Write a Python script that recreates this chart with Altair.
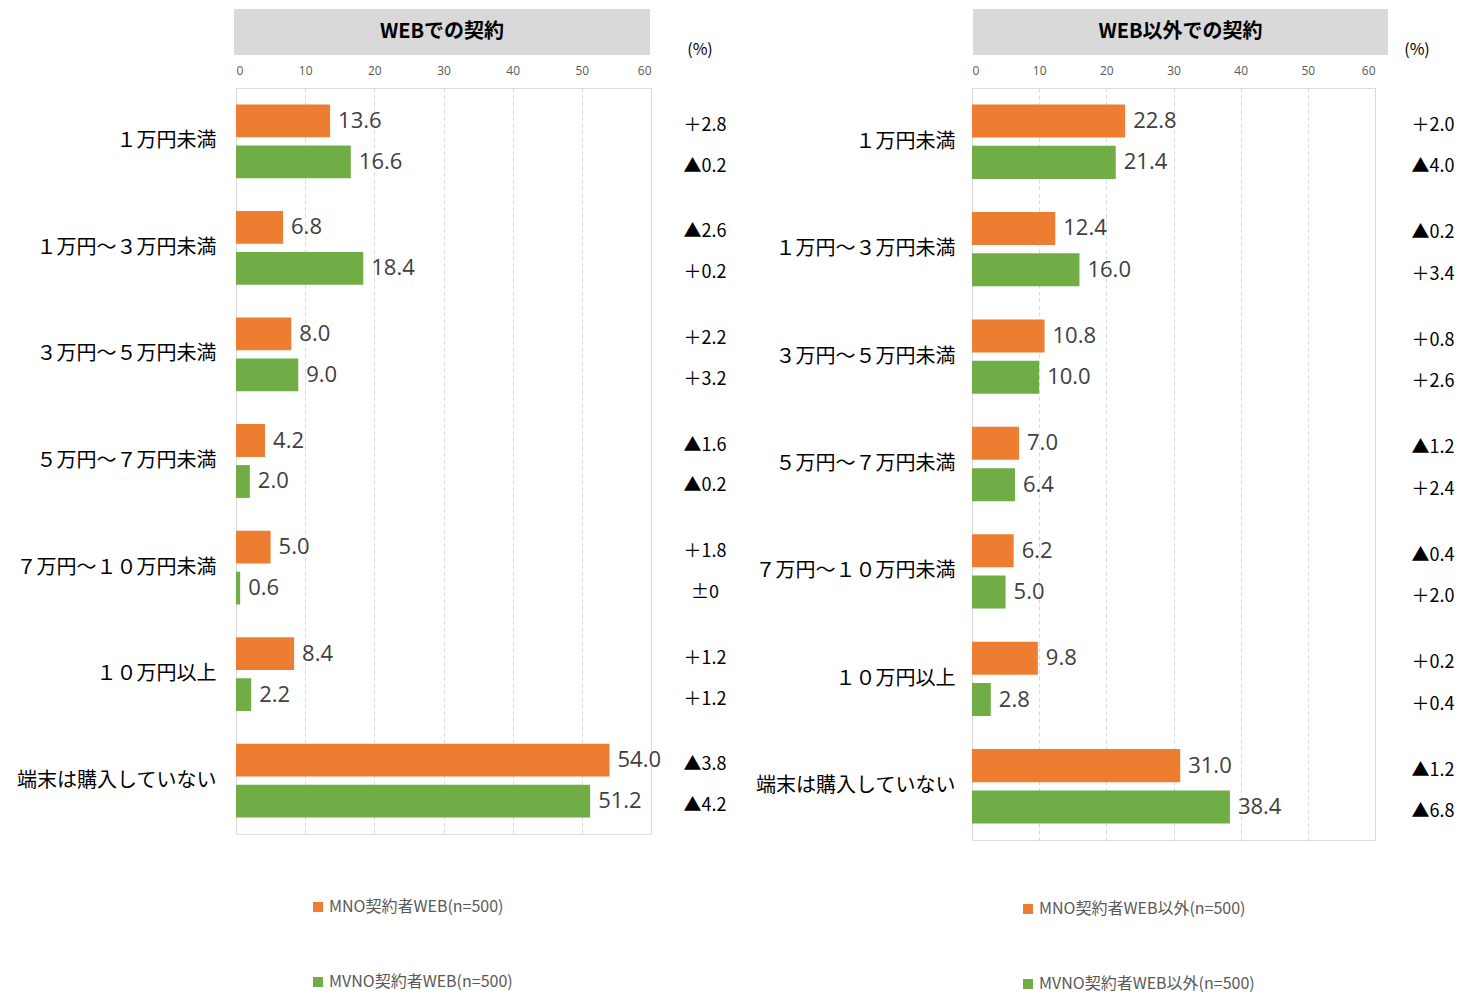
import altair as alt
import pandas as pd

categories = ["１万円未満", "１万円～３万円未満", "３万円～５万円未満", "５万円～７万円未満",
              "７万円～１０万円未満", "１０万円以上", "端末は購入していない"]

web_mno = [13.6, 6.8, 8.0, 4.2, 5.0, 8.4, 54.0]
web_mvno = [16.6, 18.4, 9.0, 2.0, 0.6, 2.2, 51.2]
web_mno_diff = ["＋2.8", "▲2.6", "＋2.2", "▲1.6", "＋1.8", "＋1.2", "▲3.8"]
web_mvno_diff = ["▲0.2", "＋0.2", "＋3.2", "▲0.2", "±0", "＋1.2", "▲4.2"]

other_mno = [22.8, 12.4, 10.8, 7.0, 6.2, 9.8, 31.0]
other_mvno = [21.4, 16.0, 10.0, 6.4, 5.0, 2.8, 38.4]
other_mno_diff = ["＋2.0", "▲0.2", "＋0.8", "▲1.2", "▲0.4", "＋0.2", "▲1.2"]
other_mvno_diff = ["▲4.0", "＋3.4", "＋2.6", "＋2.4", "＋2.0", "＋0.4", "▲6.8"]

series_web = ["MNO契約者WEB(n=500)", "MVNO契約者WEB(n=500)"]
series_other = ["MNO契約者WEB以外(n=500)", "MVNO契約者WEB以外(n=500)"]
titles = ["WEBでの契約", "WEB以外での契約"]
colors = ["#ED7D31", "#70AD47"]
x_ticks = [0, 10, 20, 30, 40, 50, 60]
unit_label = "(%)"

CJK = "Noto Sans CJK JP"
NUM = "Open Sans"


def panel(title, series, mno, mvno, d_mno, d_mvno, w, h, label_pad,
          hx0, hx1, delta_x, pct_x, leg_x, leg_y):
    rows = []
    for i, c in enumerate(categories):
        rows.append({"cat": c, "series": series[0], "value": mno[i], "delta": d_mno[i]})
        rows.append({"cat": c, "series": series[1], "value": mvno[i], "delta": d_mvno[i]})
    df = pd.DataFrame(rows)

    y = alt.Y("cat:N", sort=categories,
              scale=alt.Scale(paddingInner=0, paddingOuter=0),
              axis=alt.Axis(title=None, labelFont=CJK, labelFontSize=20, labelColor="#000000",
                            ticks=False, domain=False, labelPadding=label_pad, labelLimit=400,
                            grid=False))
    x = alt.X("value:Q", scale=alt.Scale(domain=[0, 60], nice=False),
              axis=alt.Axis(orient="top", values=x_ticks, title=None, ticks=False, domain=False,
                            labelFontSize=12, labelColor="#595959", labelPadding=11,
                            labelFont=NUM, grid=True, gridDash=[4, 3], gridColor="#d9d9d9"))
    yo = alt.YOffset("series:N", sort=series,
                     scale=alt.Scale(paddingInner=0.2, paddingOuter=0.4))

    base = alt.Chart(df)
    bars = base.mark_bar().encode(
        y=y, x=x, yOffset=yo,
        color=alt.Color("series:N", sort=series,
                        scale=alt.Scale(domain=series, range=colors),
                        legend=alt.Legend(title=None, orient="none", legendX=leg_x, legendY=leg_y,
                                          direction="vertical", symbolType="square",
                                          symbolSize=100, symbolStrokeWidth=0,
                                          labelFontSize=16, labelColor="#595959",
                                          labelFont=CJK, rowPadding=59, padding=0,
                                          labelOffset=3, labelLimit=400)),
    )
    values = base.mark_text(align="left", baseline="middle", dx=8, font=NUM,
                            fontSize=22, color="#404040").encode(
        y=y, x=x, yOffset=yo, text=alt.Text("value:Q", format=".1f"))
    deltas = base.mark_text(align="center", baseline="middle", dy=5, font=CJK,
                            fontSize=18, color="#000000").encode(
        y=y, yOffset=yo, x=alt.value(delta_x), text="delta:N")

    hdr = alt.Chart(pd.DataFrame({"t": [title]}))
    hdr_rect = hdr.mark_rect(color="#d9d9d9").encode(
        x=alt.value(hx0), x2=alt.value(hx1), y=alt.value(-79), y2=alt.value(-33))
    hdr_text = hdr.mark_text(font=CJK, fontSize=20, fontWeight="bold", color="#000000",
                             baseline="middle").encode(
        x=alt.value((hx0 + hx1) / 2), y=alt.value(-56), text="t:N")
    pct = alt.Chart(pd.DataFrame({"p": [unit_label]})).mark_text(
        font=CJK, fontSize=16, color="#000000", baseline="middle").encode(
        x=alt.value(pct_x), y=alt.value(-38), text="p:N")

    return alt.layer(hdr_rect, hdr_text, pct, bars, values, deltas).properties(
        width=w, height=h)


left = panel(titles[0], series_web, web_mno, web_mvno, web_mno_diff, web_mvno_diff,
             415, 746, 20, -2, 414, 469, 464, 74, 811)
right = panel(titles[1], series_other, other_mno, other_mvno, other_mno_diff, other_mvno_diff,
              403, 752, 17, 1, 416, 461, 445, 48, 813)

chart = alt.hconcat(left, right, spacing=27).resolve_scale(
    color="independent", y="independent", x="independent", yOffset="independent"
).properties(
    padding={"left": 7, "right": 0, "top": 0, "bottom": 0}
).configure_view(
    stroke="#d9d9d9", strokeWidth=1
).configure(background="#ffffff")

chart.save("out.html", embed_options={"renderer": "svg", "actions": False})
